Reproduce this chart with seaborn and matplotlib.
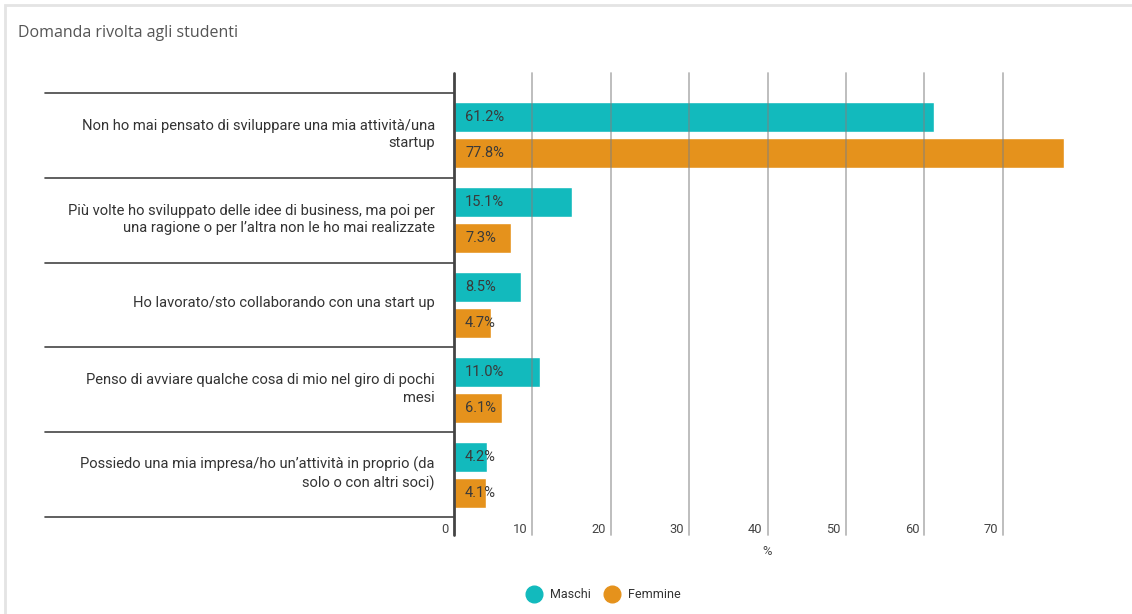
import matplotlib
matplotlib.use("Agg")
import matplotlib.pyplot as plt
import matplotlib.transforms as mtransforms
from matplotlib.lines import Line2D
from matplotlib.patches import Rectangle
import numpy as np
import pandas as pd
import seaborn as sns

# Survey answers (category labels, wrapped as displayed)
categories = [
    "Non ho mai pensato di sviluppare una mia attività/una\nstartup",
    "Più volte ho sviluppato delle idee di business, ma poi per\nuna ragione o per l\u2019altra non le ho mai realizzate",
    "Ho lavorato/sto collaborando con una start up",
    "Penso di avviare qualche cosa di mio nel giro di pochi\nmesi",
    "Possiedo una mia impresa/ho un\u2019attività in proprio (da\nsolo o con altri soci)",
]
groups = ["Maschi", "Femmine"]
maschi = [61.2, 15.1, 8.5, 11.0, 4.2]
femmine = [77.8, 7.3, 4.7, 6.1, 4.1]
x_ticks = [0, 10, 20, 30, 40, 50, 60, 70]

TEAL = "#12BABD"
ORANGE = "#E5921C"

df = pd.DataFrame({
    "Risposta": categories * 2,
    "Genere": [groups[0]] * len(maschi) + [groups[1]] * len(femmine),
    "Valore": maschi + femmine,
})

sns.set_theme(style="white")
plt.rcParams["font.family"] = ["Roboto", "DejaVu Sans"]

W, H = 1132, 614
fig = plt.figure(figsize=(W / 100, H / 100), dpi=100)
ax = fig.add_axes([454 / W, 1 - 517 / H, (1081 - 454) / W, (517 - 73) / H])

sns.barplot(data=df, y="Risposta", x="Valore", hue="Genere", orient="h",
            palette=[TEAL, ORANGE], saturation=1, width=0.85, gap=0.17,
            legend=False, ax=ax, zorder=2)

ax.set_xlim(0, 80)
ax.set_ylim(4.5, -0.736)
for s in ax.spines.values():
    s.set_visible(False)

# value labels inside each bar, near the base
for container, vals in zip(ax.containers, [maschi, femmine]):
    for bar, v in zip(container, vals):
        ax.annotate(f"{v:.1f}%", xy=(0, bar.get_y() + bar.get_height() / 2),
                    xytext=(11, 0), textcoords="offset pixels",
                    ha="left", va="center", fontsize=10.5, color="#3a3a3a", zorder=6)

# vertical gridlines drawn over the bars, extending down to the tick labels
ext = -(535 - 517) / (517 - 73)
for t in x_ticks[1:]:
    ax.axvline(t, ymin=ext, ymax=1, color="#808080", alpha=0.55, lw=1.3,
               clip_on=False, zorder=4)
ax.axvline(0, ymin=ext, ymax=1, color="#444444", lw=2, clip_on=False, zorder=5)

# separators between answer groups, to the left of the axis
blend = mtransforms.blended_transform_factory(ax.transAxes, ax.transData)
x_left = (45 - 454) / (1081 - 454)
for b in np.arange(-0.5, len(categories)):
    ax.plot([x_left, 0], [b, b], transform=blend, color="#444444", lw=1.2,
            clip_on=False, zorder=5)

ax.set_ylabel("")
ax.tick_params(axis="y", length=0, pad=13.7, labelsize=10.6, labelcolor="#333333")
up = mtransforms.ScaledTranslation(0, 4 / 100, fig.dpi_scale_trans)
for lab in ax.get_yticklabels():
    lab.set_multialignment("right")
    lab.set_linespacing(1.3)
    lab.set_transform(lab.get_transform() + up)

ax.set_xticks(x_ticks)
ax.set_xticklabels([str(t) for t in x_ticks])
ax.tick_params(axis="x", length=0, pad=4, labelsize=9.3, labelcolor="#444444")
shift = mtransforms.ScaledTranslation(-5 / 100, 0, fig.dpi_scale_trans)
for lab in ax.get_xticklabels():
    lab.set_horizontalalignment("right")
    lab.set_transform(lab.get_transform() + shift)
ax.set_xlabel("%", fontsize=9.3, color="#444444", labelpad=7)

# title and card border
fig.text(18 / W, 1 - 33 / H, "Domanda rivolta agli studenti", fontsize=11.5,
         color="#555555", va="center", ha="left", family=["Open Sans", "DejaVu Sans"])
fig.patches.append(Rectangle((5 / W, -0.1), 1.2, 1 - 5 / H + 0.1,
                             transform=fig.transFigure, fill=False,
                             edgecolor="#e4e4e4", lw=2))

handles = [Line2D([], [], marker="o", linestyle="", markersize=12,
                  markerfacecolor=c, markeredgecolor=c) for c in (TEAL, ORANGE)]
fig.legend(handles, groups, loc="center", bbox_to_anchor=(601 / W, 1 - 595 / H),
           ncol=2, frameon=False, fontsize=9, handletextpad=0.3,
           columnspacing=0.7, labelcolor="#333333")

fig.savefig("out.png", dpi=100, facecolor="white")
